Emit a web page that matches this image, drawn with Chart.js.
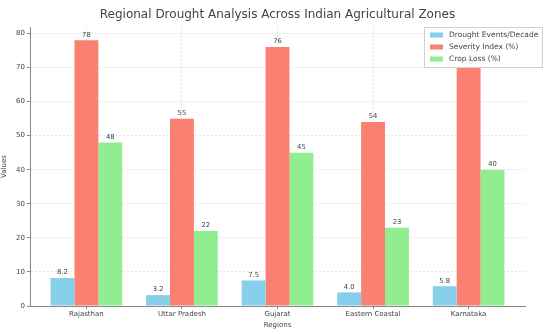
<!DOCTYPE html>
<html>
<head>
<meta charset="utf-8">
<script src="https://cdn.jsdelivr.net/npm/chart.js@4.4.1/dist/chart.umd.min.js"></script>
<style>
  html, body { margin: 0; padding: 0; background: #fff; }
  canvas { display: block; }
</style>
</head>
<body>
<canvas id="myChart" width="545" height="334"></canvas>
<script>
const regions = ['Rajasthan', 'Uttar Pradesh', 'Gujarat', 'Eastern Coastal', 'Karnataka'];
const droughtEvents = [8.2, 3.2, 7.5, 4.0, 5.8];
const severityIndex = [78, 55, 76, 54, 70];
const cropLoss = [48, 22, 45, 23, 40];
const seriesNames = ['Drought Events/Decade', 'Severity Index (%)', 'Crop Loss (%)'];
const seriesColors = ['#87ceeb', '#fa8072', '#90ee90'];
const yTicks = [0, 10, 20, 30, 40, 50, 60, 70, 80];
const chartTitle = 'Regional Drought Analysis Across Indian Agricultural Zones';

const FONT = "'DejaVu Sans', sans-serif";
const toPoints = arr => arr.map((v, i) => ({ x: i, y: v }));

// title centred over the plot area (like matplotlib)
const plotTitle = {
    id: 'plotTitle',
    afterDraw(chart) {
        const c = chart.ctx;
        const a = chart.chartArea;
        c.save();
        c.font = '12px ' + FONT;
        c.fillStyle = '#444';
        c.textAlign = 'center';
        c.textBaseline = 'middle';
        c.fillText(chartTitle, (a.left + a.right) / 2, 15);
        c.restore();
    }
};

// value labels above each bar
const barLabels = {
    id: 'barLabels',
    afterDatasetsDraw(chart) {
        const c = chart.ctx;
        c.save();
        c.font = '6.8px ' + FONT;
        c.fillStyle = '#444';
        c.textAlign = 'center';
        c.textBaseline = 'bottom';
        chart.data.datasets.forEach((ds, di) => {
            chart.getDatasetMeta(di).data.forEach((bar, i) => {
                const v = ds.data[i].y;
                const txt = di === 0 ? v.toFixed(1) : String(v);
                c.fillText(txt, bar.x, bar.y - 2);
            });
        });
        c.restore();
    }
};

// legend box inside the plot, top right
const boxLegend = {
    id: 'boxLegend',
    afterDraw(chart) {
        const c = chart.ctx;
        const x0 = 424, y0 = 27, w = 119, h = 41;
        c.save();
        c.fillStyle = 'rgba(255,255,255,0.85)';
        c.strokeStyle = '#d0d0d0';
        c.lineWidth = 1;
        c.fillRect(x0, y0, w, h);
        c.strokeRect(x0 + 0.5, y0 + 0.5, w - 1, h - 1);
        c.font = '7.5px ' + FONT;
        c.textBaseline = 'middle';
        c.textAlign = 'left';
        chart.data.datasets.forEach((ds, i) => {
            const y = y0 + 8 + i * 12;
            c.fillStyle = ds.backgroundColor;
            c.fillRect(x0 + 6, y - 2.5, 13, 5);
            c.fillStyle = '#444';
            c.fillText(ds.label, x0 + 25, y);
        });
        c.restore();
    }
};

new Chart(document.getElementById('myChart'), {
    type: 'bar',
    data: {
        datasets: [
            { label: seriesNames[0], data: toPoints(droughtEvents), backgroundColor: seriesColors[0] },
            { label: seriesNames[1], data: toPoints(severityIndex), backgroundColor: seriesColors[1] },
            { label: seriesNames[2], data: toPoints(cropLoss), backgroundColor: seriesColors[2] }
        ]
    },
    options: {
        responsive: false,
        animation: false,
        categoryPercentage: 0.75,
        barPercentage: 1.0,
        layout: { padding: { left: 0, right: 20, top: 27, bottom: 0 } },
        plugins: {
            legend: { display: false },
            tooltip: { enabled: false },
            title: { display: false }
        },
        scales: {
            x: {
                type: 'linear',
                offset: false,
                min: -0.59,
                max: 4.59,
                afterFit(scale) { scale.height = 28; },
                afterBuildTicks(scale) {
                    scale.ticks = regions.map((r, i) => ({ value: i }));
                },
                ticks: {
                    autoSkip: false,
                    maxRotation: 0,
                    padding: 1,
                    color: '#444',
                    font: { family: FONT, size: 7 },
                    callback: v => regions[v]
                },
                grid: { offset: false, color: '#e4e4e4', tickColor: '#888', tickLength: 3 },
                border: { color: '#888', dash: [2, 2] },
                title: {
                    display: true,
                    text: 'Regions',
                    color: '#444',
                    padding: { top: 0, bottom: 5 },
                    font: { family: FONT, size: 7 }
                }
            },
            y: {
                min: 0,
                max: 81.9,
                afterFit(scale) { scale.width = 30; },
                afterBuildTicks(scale) {
                    scale.ticks = yTicks.map(v => ({ value: v }));
                },
                ticks: {
                    padding: 2,
                    color: '#444',
                    font: { family: FONT, size: 7 }
                },
                grid: { color: '#e4e4e4', tickColor: '#888', tickLength: 3 },
                border: { color: '#888', dash: [2, 2] },
                title: {
                    display: true,
                    text: 'Values',
                    color: '#444',
                    padding: { top: 0, bottom: 2 },
                    font: { family: FONT, size: 7 }
                }
            }
        }
    },
    plugins: [barLabels, boxLegend, plotTitle]
});
</script>
</body>
</html>
